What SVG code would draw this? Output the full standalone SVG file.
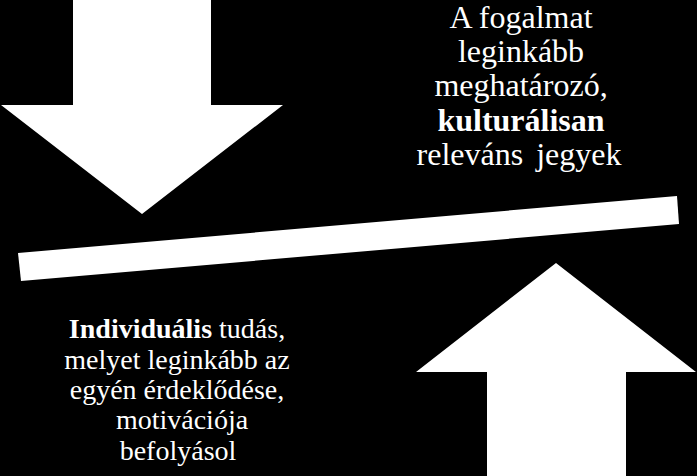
<svg xmlns="http://www.w3.org/2000/svg" width="697" height="476" viewBox="0 0 697 476">
<style>
.shape{fill:#ffffff;stroke:none}
.txt{font-family:'Liberation Serif','Times New Roman',serif;fill:#ffffff;text-anchor:middle}
.top{font-size:32px}
.bot{font-size:28px}
.b{font-weight:bold}
</style>
<rect x="0" y="0" width="697" height="476" fill="#000000"/>
<g id="arrow-down"><polygon class="shape" points="73,0 211,0 211,105 283,105 142,214 1,105 73,105"/></g>
<g id="bar"><polygon class="shape" points="18,253 677,196 679,224 21,281"/></g>
<g id="arrow-up"><polygon class="shape" points="556,263 696,372 626,372 626,476 487,476 487,372 416,372"/></g>
<g id="text-top" class="txt">
<text class="top" x="521" y="28">A fogalmat</text>
<text class="top" x="521" y="62">leginkább</text>
<text class="top" x="521" y="96">meghatározó,</text>
<text class="top b" x="521" y="130.5">kulturálisan</text>
<text class="top" x="519" y="165" word-spacing="5">releváns jegyek</text>
</g>
<g id="text-bottom" class="txt">
<text class="bot" x="177" y="338"><tspan class="b">Individuális</tspan> tudás,</text>
<text class="bot" x="177" y="369">melyet leginkább az</text>
<text class="bot" x="177" y="399">egyén érdeklődése,</text>
<text class="bot" x="182" y="429">motivációja</text>
<text class="bot" x="178" y="460">befolyásol</text>
</g>
</svg>
